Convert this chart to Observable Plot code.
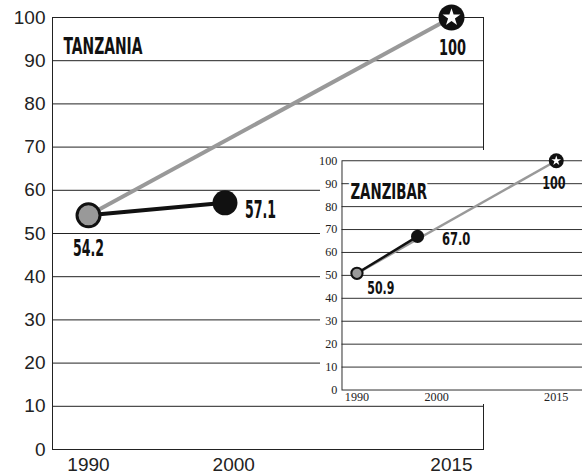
<!DOCTYPE html>
<html><head><meta charset="utf-8">
<script src="https://cdn.jsdelivr.net/npm/d3@7"></script>
<script src="https://cdn.jsdelivr.net/npm/@observablehq/plot@0.6"></script>
<style>
html,body{margin:0;padding:0;overflow:hidden;background:#fff;width:582px;height:475px}
#wrap{position:relative;width:582px;height:475px;overflow:hidden}
#main{position:absolute;left:0;top:0}
#inset{position:absolute;left:320px;top:150px;background:#fff}
svg{display:block}
</style></head><body><div id="wrap"><div id="main"></div><div id="inset"></div></div>
<script>
// ---- data ----
const tickYears = [1990, 2000, 2015];
const yTicks = [0, 10, 20, 30, 40, 50, 60, 70, 80, 90, 100];
const gridValues = [10, 20, 30, 40, 50, 60, 70, 80, 90];

const tzTitle = "TANZANIA";
const tzYears = [1990, 1999.4, 2015];
const tzValues = [54.2, 57.1, 100];
const tzLabels = ["54.2", "57.1", "100"];

const zbTitle = "ZANZIBAR";
const zbYears = [1990, 1997.6, 2015];
const zbValues = [50.9, 67.0, 100];
const zbLabels = ["50.9", "67.0", "100"];

const GREY = "#999999";
const INK = "#111111";
const COND = "'DejaVu Sans Condensed', 'DejaVu Sans', sans-serif";

const tz = tzYears.map((year, i) => ({year, value: tzValues[i], label: tzLabels[i]}));
const zb = zbYears.map((year, i) => ({year, value: zbValues[i], label: zbLabels[i]}));

function marksFor(d, title, s) {
  const lab = (p, o) => Plot.text([p], {x: "year", y: "value", text: "label", dx: o[0], dy: o[1], textAnchor: o[2],
      fontFamily: COND, fontWeight: "bold", fontSize: o[3], fill: INK});
  return [
    Plot.ruleY(gridValues, {y: v => v, stroke: "#222", strokeWidth: 1}),
    Plot.text([title], {frameAnchor: "top-left", dx: s.titleDx, dy: s.titleDy, text: t => t,
      textAnchor: "start", fontFamily: COND, fontWeight: "bold", fontSize: s.titleSize, fill: INK,
      stroke: "white", strokeWidth: s.halo, paintOrder: "stroke"}),
    Plot.line([d[0], d[2]], {x: "year", y: "value", stroke: GREY, strokeWidth: s.lineW, strokeLinecap: "butt"}),
    Plot.line([d[0], d[1]], {x: "year", y: "value", stroke: INK, strokeWidth: s.lineW, strokeLinecap: "butt"}),
    Plot.dot([d[0]], {x: "year", y: "value", r: s.r0, fill: GREY, stroke: INK, strokeWidth: s.dotSW}),
    Plot.dot([d[1]], {x: "year", y: "value", r: s.r1, fill: INK}),
    Plot.dot([d[2]], {x: "year", y: "value", r: s.r2, fill: INK}),
    Plot.dot([d[2]], {x: "year", y: "value", r: s.rStar, symbol: "star", fill: "white"}),
    lab(d[0], s.l0), lab(d[1], s.l1), lab(d[2], s.l2)
  ];
}

const mainPlot = Plot.plot({
  width: 582, height: 475,
  marginLeft: 52, marginRight: 99, marginTop: 17, marginBottom: 26,
  insetLeft: 36, insetRight: 32,
  style: {fontFamily: "'Liberation Sans', Arial, sans-serif", fontSize: "19px", color: "#222", background: "white", overflow: "visible"},
  x: {domain: [1990, 2015], ticks: tickYears, tickFormat: d => String(d), tickSize: 0, tickPadding: 8, label: null},
  y: {domain: [0, 100], ticks: yTicks, tickSize: 0, tickPadding: 7, label: null},
  marks: [
    Plot.frame({stroke: "#222"}),
    ...marksFor(tz, tzTitle, {titleDx: 11, titleDy: 20, titleSize: 23.5, halo: 0,
      lineW: 4, r0: 11.5, r1: 12.5, r2: 13, rStar: 5.6, dotSW: 3,
      l0: [0, 33, "middle", 23.5], l1: [20, 7, "start", 25], l2: [1, 31, "middle", 21]})
  ]
});

const insetPlot = Plot.plot({
  width: 280, height: 271,
  marginLeft: 23, marginRight: 0, marginTop: 11, marginBottom: 15,
  insetLeft: 16, insetRight: 28,
  style: {fontFamily: "'Liberation Serif', 'DejaVu Serif', serif", fontSize: "13px", color: "#222", background: "white", overflow: "visible"},
  x: {domain: [1990, 2015], ticks: tickYears, tickFormat: d => String(d), tickSize: 0, tickPadding: 3, label: null},
  y: {domain: [0, 100], ticks: yTicks, tickSize: 0, tickPadding: 5, label: null},
  marks: [
    Plot.frame({stroke: "#222"}),
    ...marksFor(zb, zbTitle, {titleDx: 9, titleDy: 24, titleSize: 23.5, halo: 7,
      lineW: 2.6, r0: 6, r1: 7, r2: 8, rStar: 3.3, dotSW: 2.2,
      l0: [11, 16, "start", 19.5], l1: [26, 3, "start", 19.5], l2: [-2.5, 24, "middle", 19.5]})
  ]
});

document.getElementById("main").appendChild(mainPlot);
document.getElementById("inset").appendChild(insetPlot);

// condense the bold headline-style labels to the reference's narrow set widths (px)
const setWidths = [
  [mainPlot, {[tzTitle]: 79, [tzLabels[0]]: 31, [tzLabels[1]]: 31, [tzLabels[2]]: 27}],
  [insetPlot, {[zbTitle]: 82, [zbLabels[0]]: 29, [zbLabels[1]]: 30.5, [zbLabels[2]]: 25}]
];
for (const [svg, map] of setWidths) {
  svg.querySelectorAll("text").forEach(t => {
    const fw = getComputedStyle(t).fontWeight;
    if (!(fw === "bold" || +fw >= 600)) return;
    const target = map[t.textContent];
    if (!target) return;
    t.setAttribute("lengthAdjust", "spacingAndGlyphs");
    t.setAttribute("textLength", String(target));
  });
}
</script></body></html>
